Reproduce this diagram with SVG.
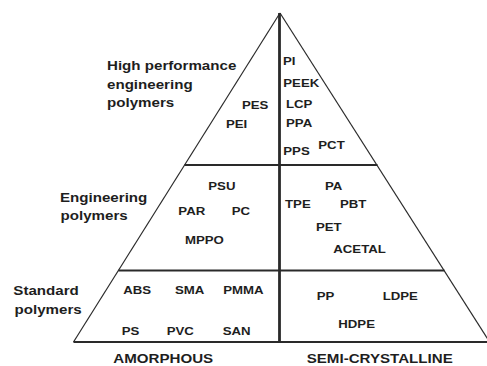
<svg xmlns="http://www.w3.org/2000/svg" width="487" height="366" viewBox="0 0 487 366">
  <style>
    text { font-family: "Liberation Sans", Arial, sans-serif; font-weight: bold; fill: #1e1e1e; }
    .lbl { font-size: 12.5px; }
    .nm { font-size: 11.5px; }
    .side { stroke: #2a2a2a; stroke-width: 1.2; fill: none; }
    .tier { stroke: #2a2a2a; stroke-width: 2.2; fill: none; }
    .axis { stroke: #2a2a2a; stroke-width: 2.8; fill: none; }
  </style>
  <rect width="487" height="366" fill="#ffffff"/>

  <!-- pyramid outline, tier dividers and the amorphous / semi-crystalline split -->
  <g id="connectors">
    <line class="side" x1="280" y1="13" x2="73.5" y2="342"/>
    <line class="side" x1="280" y1="13" x2="489.6" y2="342"/>
    <line class="tier" x1="184.5" y1="165" x2="377.5" y2="165"/>
    <line class="tier" x1="118.5" y1="270.5" x2="444.5" y2="270.5"/>
    <line class="tier" x1="73.5" y1="342" x2="487" y2="342"/>
    <line class="axis" x1="279.5" y1="13" x2="279.5" y2="343"/>
  </g>

  <!-- tier names -->
  <g id="tier-labels">
    <text class="lbl" transform="translate(107 70.3) scale(1.21 1)">High performance</text>
    <text class="lbl" transform="translate(107 88.8) scale(1.21 1)">engineering</text>
    <text class="lbl" transform="translate(107 107.3) scale(1.21 1)">polymers</text>
    <text class="lbl" transform="translate(60 202.3) scale(1.21 1)">Engineering</text>
    <text class="lbl" transform="translate(60.5 220.3) scale(1.21 1)">polymers</text>
    <text class="lbl" transform="translate(13.3 295) scale(1.21 1)">Standard</text>
    <text class="lbl" transform="translate(14.5 313.5) scale(1.21 1)">polymers</text>
  </g>

  <!-- high performance tier -->
  <g id="high-amorphous">
    <text class="nm" transform="translate(242 108.5) scale(1.15 1)">PES</text>
    <text class="nm" transform="translate(226 128.3) scale(1.15 1)">PEI</text>
  </g>
  <g id="high-semicrystalline">
    <text class="nm" transform="translate(283 64.7) scale(1.15 1)">PI</text>
    <text class="nm" transform="translate(283.3 87.3) scale(1.15 1)">PEEK</text>
    <text class="nm" transform="translate(286 107.8) scale(1.15 1)">LCP</text>
    <text class="nm" transform="translate(286 127) scale(1.15 1)">PPA</text>
    <text class="nm" transform="translate(283.3 155) scale(1.15 1)">PPS</text>
    <text class="nm" transform="translate(318.3 149) scale(1.15 1)">PCT</text>
  </g>

  <!-- engineering tier -->
  <g id="engineering-amorphous">
    <text class="nm" transform="translate(208.3 190) scale(1.15 1)">PSU</text>
    <text class="nm" transform="translate(178.3 215) scale(1.15 1)">PAR</text>
    <text class="nm" transform="translate(231.7 215) scale(1.15 1)">PC</text>
    <text class="nm" transform="translate(185 244) scale(1.15 1)">MPPO</text>
  </g>
  <g id="engineering-semicrystalline">
    <text class="nm" transform="translate(325 190) scale(1.15 1)">PA</text>
    <text class="nm" transform="translate(285 207.7) scale(1.15 1)">TPE</text>
    <text class="nm" transform="translate(340 207.7) scale(1.15 1)">PBT</text>
    <text class="nm" transform="translate(316 231) scale(1.15 1)">PET</text>
    <text class="nm" transform="translate(333.3 253.3) scale(1.15 1)">ACETAL</text>
  </g>

  <!-- standard tier -->
  <g id="standard-amorphous">
    <text class="nm" transform="translate(123.3 294) scale(1.15 1)">ABS</text>
    <text class="nm" transform="translate(175 294) scale(1.15 1)">SMA</text>
    <text class="nm" transform="translate(223.3 294) scale(1.15 1)">PMMA</text>
    <text class="nm" transform="translate(121.7 335) scale(1.15 1)">PS</text>
    <text class="nm" transform="translate(166.7 335) scale(1.15 1)">PVC</text>
    <text class="nm" transform="translate(222.7 335) scale(1.15 1)">SAN</text>
  </g>
  <g id="standard-semicrystalline">
    <text class="nm" transform="translate(316.7 300) scale(1.15 1)">PP</text>
    <text class="nm" transform="translate(382.7 300) scale(1.15 1)">LDPE</text>
    <text class="nm" transform="translate(338.3 328.3) scale(1.15 1)">HDPE</text>
  </g>

  <!-- column captions -->
  <g id="column-labels">
    <text class="lbl" transform="translate(113.3 363.3) scale(1.21 1)">AMORPHOUS</text>
    <text class="lbl" transform="translate(306.7 363.3) scale(1.21 1)">SEMI-CRYSTALLINE</text>
  </g>
</svg>
